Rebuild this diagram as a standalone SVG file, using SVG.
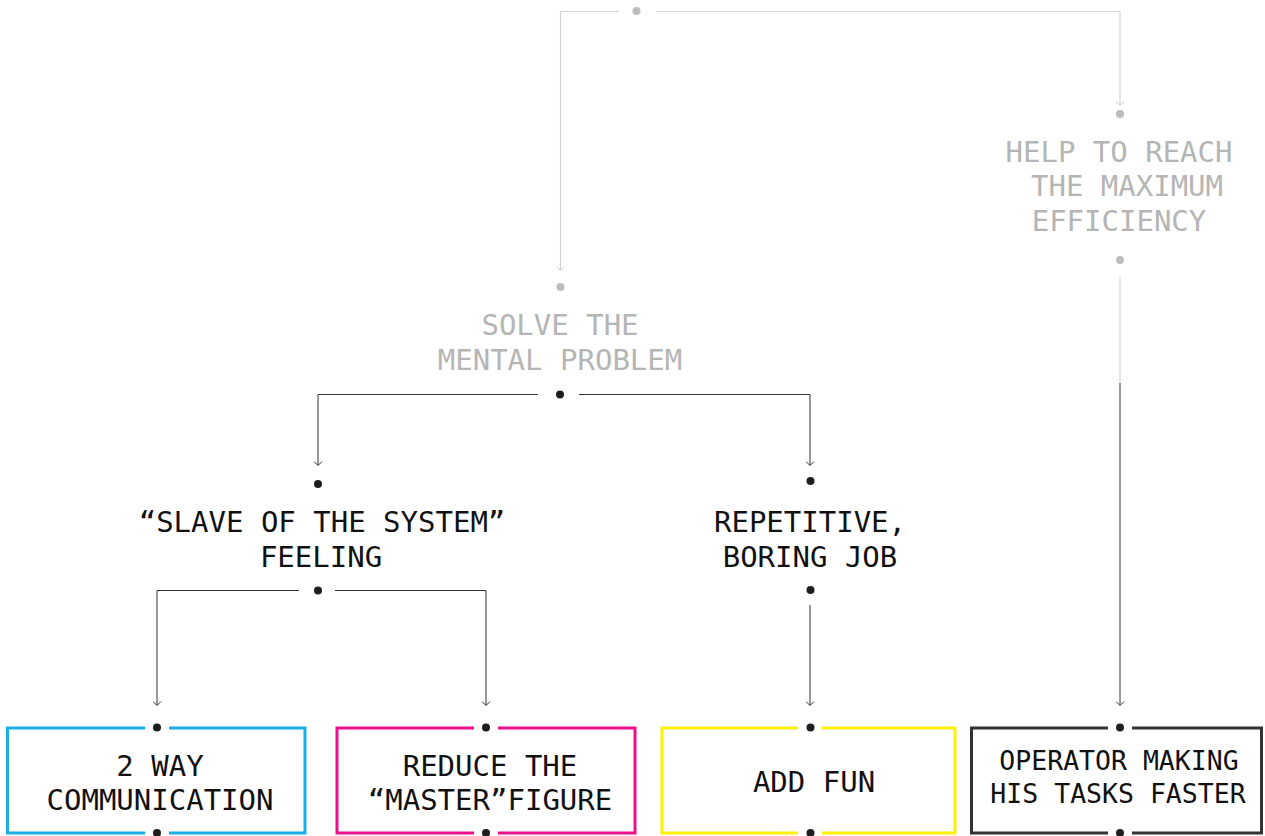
<svg xmlns="http://www.w3.org/2000/svg" width="1265" height="836" viewBox="0 0 1265 836">
<defs>
<marker id="arrD" markerUnits="userSpaceOnUse" markerWidth="12" markerHeight="12" viewBox="-6 -8 12 12" refX="0" refY="0" orient="auto-start-reverse">
<path d="M-4,-3.5 L0,0.5 L4,-3.5" transform="rotate(-90)" fill="none" stroke="#333" stroke-width="1"/>
</marker>
<marker id="arrG" markerUnits="userSpaceOnUse" markerWidth="12" markerHeight="12" viewBox="-6 -8 12 12" refX="0" refY="0" orient="auto-start-reverse">
<path d="M-4,-3.5 L0,0.5 L4,-3.5" transform="rotate(-90)" fill="none" stroke="#c8c8c8" stroke-width="1"/>
</marker>
<style>
text{font-family:"DejaVu Sans Mono","Liberation Mono",monospace;font-size:29px;text-anchor:middle}
.g{fill:#b5b5b5}
.k{fill:#111}
.sm{font-size:26.5px}
.dk{fill:#1e1e1e}
.dg{fill:#bdbdbd}
.ln{fill:none;stroke:#333;stroke-width:1}
.lg{fill:none;stroke:#d4d4d4;stroke-width:1.2}
.box{fill:none;stroke-width:3}
</style>
</defs>
<rect width="1265" height="836" fill="#fff"/>
<g id="connectors">
<path class="lg" d="M619,11.5 H560.5 V270" marker-end="url(#arrG)"/>
<path class="lg" d="M656,11.5 H1120 V105" marker-end="url(#arrG)"/>
<path class="lg" d="M1120,277 V383"/>
<path class="ln" d="M1120,383 V705" marker-end="url(#arrD)"/>
<path class="ln" d="M538,394.5 H318 V465" marker-end="url(#arrD)"/>
<path class="ln" d="M579,394.5 H810 V465" marker-end="url(#arrD)"/>
<path class="ln" d="M299,590.5 H157 V705" marker-end="url(#arrD)"/>
<path class="ln" d="M335,590.5 H486 V705" marker-end="url(#arrD)"/>
<path class="ln" d="M810,605 V705" marker-end="url(#arrD)"/>
</g>
<g id="top">
<circle class="dg" cx="636.5" cy="11" r="4"/>
</g>
<g id="help">
<circle class="dg" cx="1120" cy="114" r="4"/>
<text class="g" x="1119" y="162">HELP TO REACH</text>
<text class="g" x="1127" y="196">THE MAXIMUM</text>
<text class="g" x="1119" y="231">EFFICIENCY</text>
<circle class="dg" cx="1120" cy="260" r="4"/>
</g>
<g id="solve">
<circle class="dg" cx="560.5" cy="287" r="4"/>
<text class="g" x="560" y="335">SOLVE THE</text>
<text class="g" x="560" y="370">MENTAL PROBLEM</text>
<circle class="dk" cx="560" cy="394.5" r="4"/>
</g>
<g id="slave">
<circle class="dk" cx="318" cy="484" r="4"/>
<text class="k" x="322" y="532">“SLAVE OF THE SYSTEM”</text>
<text class="k" x="321" y="567">FEELING</text>
<circle class="dk" cx="318" cy="590.5" r="4"/>
</g>
<g id="repetitive">
<circle class="dk" cx="810.5" cy="481" r="4"/>
<text class="k" x="810" y="532">REPETITIVE,</text>
<text class="k" x="810" y="567">BORING JOB</text>
<circle class="dk" cx="810.5" cy="590" r="4"/>
</g>
<g id="box-communication">
<path class="box" stroke="#1aaee8" d="M145,728 H7.5 V833 H145 M169,833 H305 V728 H169"/>
<circle class="dk" cx="157" cy="727.5" r="4"/>
<circle class="dk" cx="157" cy="833" r="4"/>
<text class="k" x="160" y="776">2 WAY</text>
<text class="k" x="160" y="810">COMMUNICATION</text>
</g>
<g id="box-master">
<path class="box" stroke="#ec0f8c" d="M474,728 H337 V833 H474 M498,833 H635 V728 H498"/>
<circle class="dk" cx="486" cy="727.5" r="4"/>
<circle class="dk" cx="486" cy="833" r="4"/>
<text class="k" x="490" y="776">REDUCE THE</text>
<text class="k" x="490" y="810">“MASTER”FIGURE</text>
</g>
<g id="box-fun">
<path class="box" stroke="#fff000" d="M798,728 H662 V833 H798 M822,833 H955 V728 H822"/>
<circle class="dk" cx="810.5" cy="727.5" r="4"/>
<circle class="dk" cx="810.5" cy="833" r="4"/>
<text class="k" x="814" y="792">ADD FUN</text>
</g>
<g id="box-operator">
<path class="box" stroke="#333" d="M1108,728 H971.5 V833 H1108 M1132,833 H1261.5 V728 H1132"/>
<circle class="dk" cx="1120" cy="727.5" r="4"/>
<circle class="dk" cx="1120" cy="833" r="4"/>
<text class="k sm" x="1119" y="770">OPERATOR MAKING</text>
<text class="k sm" x="1118" y="803">HIS TASKS FASTER</text>
</g>
</svg>
